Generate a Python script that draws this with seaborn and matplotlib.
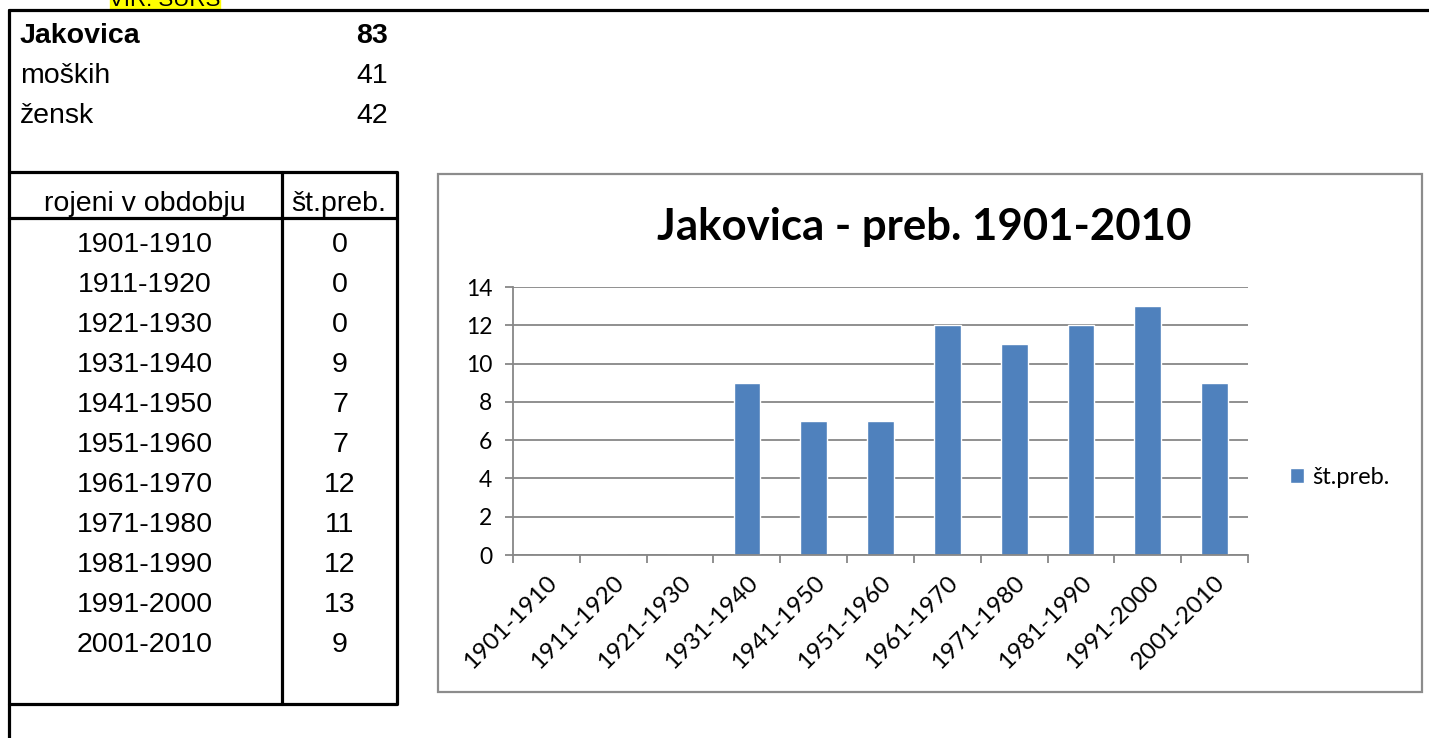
import matplotlib
matplotlib.use("Agg")
from matplotlib import pyplot as plt
from matplotlib.patches import Rectangle
import seaborn as sns
import pandas as pd

place = "Jakovica"
total = 83
men = 41
women = 42
periods = ["1901-1910", "1911-1920", "1921-1930", "1931-1940", "1941-1950", "1951-1960",
           "1961-1970", "1971-1980", "1981-1990", "1991-2000", "2001-2010"]
counts = [0, 0, 0, 9, 7, 7, 12, 11, 12, 13, 9]
series_name = "št.preb."
title = "Jakovica - preb. 1901-2010"

W, H = 1429, 738
bar_color = "#4F81BD"
grid_color = "#878787"

sns.set_style("white")
plt.rcParams['font.family'] = ['Liberation Sans', 'DejaVu Sans']
plt.rcParams['text.color'] = 'black'
plt.rcParams['xtick.color'] = 'black'
plt.rcParams['ytick.color'] = 'black'
chart_font = ["Lato", "DejaVu Sans"]

fig = plt.figure(figsize=(W / 100, H / 100), dpi=100)

# sheet layer in pixel coordinates
sheet = fig.add_axes([0, 0, 1, 1])
sheet.set_xlim(0, W)
sheet.set_ylim(H, 0)
sheet.axis("off")

# yellow note cut off at the top of the screenshot
note_box = Rectangle((110, -2), 110, 11, color="#FFFF00", zorder=1)
sheet.add_patch(note_box)
sheet.text(165, 6, "VIR: SURS", ha="center", va="baseline", fontsize=16, zorder=2)

lw = 2.3
sheet.plot([9, W], [10, 10], color="black", lw=lw)
sheet.plot([9, 9], [10, H], color="black", lw=lw)

fs = 20.5
sheet.text(20, 36, place, fontsize=fs, fontweight="bold", va="center")
sheet.text(388, 36, str(total), fontsize=fs, fontweight="bold", va="center", ha="right")
sheet.text(20, 76, "moških", fontsize=fs, va="center")
sheet.text(388, 76, str(men), fontsize=fs, va="center", ha="right")
sheet.text(20, 116, "žensk", fontsize=fs, va="center")
sheet.text(388, 116, str(women), fontsize=fs, va="center", ha="right")

# table frame
sheet.plot([9, 397, 397, 9], [172, 172, 704, 704], color="black", lw=lw)
sheet.plot([9, 397], [218, 218], color="black", lw=lw)
sheet.plot([282, 282], [172, 704], color="black", lw=lw)
sheet.text(145, 204, "rojeni v obdobju", fontsize=fs, ha="center", va="center")
sheet.text(339, 204, series_name, fontsize=fs, ha="center", va="center")
for i, (p, c) in enumerate(zip(periods, counts)):
    y = 245 + 40 * i
    sheet.text(145, y, p, fontsize=fs, ha="center", va="center")
    sheet.text(340, y, str(c), fontsize=fs, ha="center", va="center")

# chart frame
sheet.add_patch(Rectangle((438, 174), 984, 518, fill=False, edgecolor="#8C8C8C", lw=1.6))
sheet.text(924, 227, title, fontsize=31.5, fontweight="bold", ha="center", va="center",
           family=chart_font)

# bar chart
ax = fig.add_axes([513 / W, (H - 555) / H, (1248 - 513) / W, (555 - 287) / H])
df = pd.DataFrame({"period": periods, "count": counts})
sns.barplot(data=df, x="period", y="count", color=bar_color, width=0.4, ax=ax,
            saturation=1, label=series_name)
ax.set_xlim(-0.5, len(periods) - 0.5)
ax.set_ylim(0, 14)
ax.set_yticks(range(0, 15, 2))
ax.set_xlabel("")
ax.set_ylabel("")
ax.set_axisbelow(True)
ax.yaxis.grid(True, color=grid_color, lw=1.3)
for side in ["top", "right"]:
    ax.spines[side].set_visible(False)
ax.spines["left"].set_color(grid_color)
ax.spines["bottom"].set_color(grid_color)
ax.spines["left"].set_linewidth(1.3)
ax.spines["bottom"].set_linewidth(1.3)
ax.set_xticks([i - 0.5 for i in range(len(periods) + 1)], minor=False)
ax.set_xticklabels([""] * (len(periods) + 1))
ax.set_xticks(range(len(periods)), minor=True)
ax.set_xticklabels(periods, minor=True, rotation=45, ha="right", rotation_mode="anchor",
                   fontsize=17.5, family=chart_font)
ax.tick_params(axis="x", which="major", length=6, width=1.3, color=grid_color, bottom=True)
ax.tick_params(axis="x", which="minor", length=0, pad=12)
ax.tick_params(axis="y", length=6, width=1.3, color=grid_color, left=True, labelsize=16.5, pad=9)
for t in ax.get_yticklabels():
    t.set_family(chart_font)

leg = ax.legend(loc="center left", bbox_to_anchor=(1.028, 0.29), frameon=False,
                handlelength=0.6, handleheight=0.6, handletextpad=0.35,
                prop={"family": chart_font, "size": 17})

fig.savefig("out.png", dpi=100)
